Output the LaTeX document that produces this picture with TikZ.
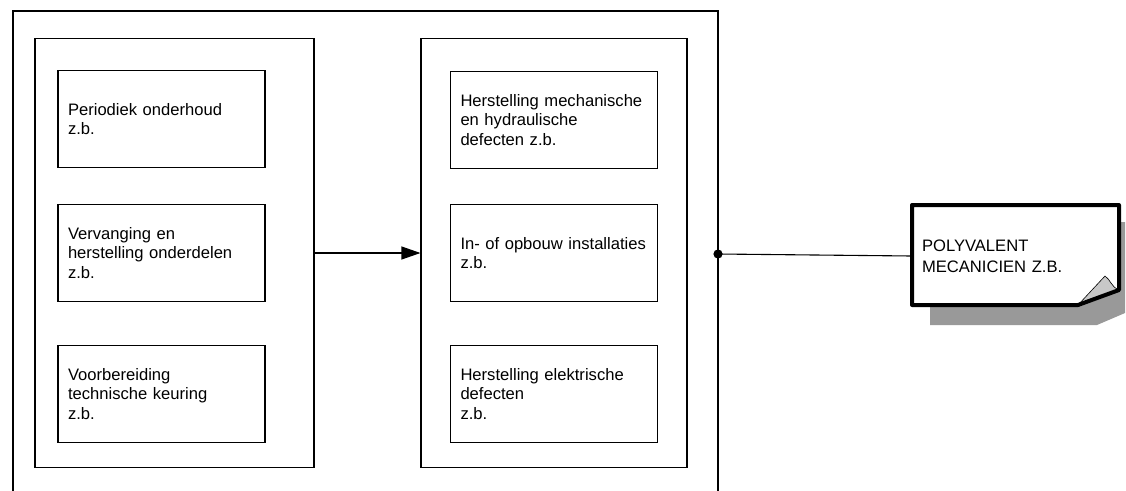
\documentclass[tikz,border=0pt]{standalone}
\usepackage{fontspec}
\setmainfont{Liberation Sans}
\usetikzlibrary{arrows.meta}
\definecolor{foldgray}{RGB}{200, 200, 200}
\definecolor{shadowgray}{RGB}{153, 153, 153}

\begin{document}
\begin{tikzpicture}[x=1pt, y=-1pt, >=Stealth,
  task/.style={draw, line width=1.1pt, minimum width=207pt, minimum height=97pt,
    text width=187pt, inner sep=10pt, align=left,
    font=\fontsize{16.6}{19.8}\selectfont},
  groupbox/.style={draw, line width=1.1pt, minimum height=429pt, inner sep=0pt}]

  \useasboundingbox (0, 0) rectangle (1126, 490);

  % Outer frame (open at the bottom)
  \draw[line width=1.1pt] (13, 492) -- (13, 11) -- (718, 11) -- (718, 492);
  \coordinate (tap) at (718, 254);

  % Left group
  \node[groupbox, minimum width=279pt] (lgrp) at (174.5, 253) {};
  \node[task] (onderhoud) at (161.5, 119) {Periodiek onderhoud\\z.b.};
  \node[task] (vervanging) at (161.5, 253) {Vervanging en\\herstelling onderdelen\\z.b.};
  \node[task] (keuring) at (161.5, 394) {Voorbereiding\\technische keuring\\z.b.};

  % Right group
  \node[groupbox, minimum width=266pt] (rgrp) at (554, 253) {};
  \node[task] (mechanisch) at (554, 120) {Herstelling mechanische\\en hydraulische\\defecten z.b.};
  \node[task] (opbouw) at (554, 253) {In- of opbouw installaties\\z.b.};
  \node[task] (elektrisch) at (554, 394) {Herstelling elektrische\\defecten\\z.b.};

  % Arrow between the groups
  \draw[-{Triangle[length=19pt, width=13pt]}, line width=1.1pt] (lgrp) -- (rgrp);

  % Note: shadow, sheet, fold
  \fill[shadowgray] (930, 222) -- (1125, 222) -- (1125, 313) -- (1097, 325)
    -- (930, 325) -- cycle;
  \fill[white] (912, 205) -- (1119, 205) -- (1119, 290) -- (1078, 305)
    -- (912, 305) -- cycle;
  \filldraw[fill=foldgray, line width=0.6pt] (1078, 305) -- (1105, 276)
    .. controls (1110, 279) and (1112, 288) .. (1119, 290) -- cycle;
  \draw[line width=4pt, line join=round] (912, 205) -- (1119, 205) -- (1119, 290)
    -- (1078, 305) -- (912, 305) -- cycle;
  \node[text width=187pt, inner sep=10pt, align=left,
    font=\fontsize{16.6}{21}\selectfont] (mecanicien) at (1015.5, 256)
    {POLYVALENT\\MECANICIEN Z.B.};

  % Link to the note
  \draw[line width=1.1pt] (tap) -- (mecanicien.west);
  \fill (tap) circle (4.6);

\end{tikzpicture}
\end{document}
